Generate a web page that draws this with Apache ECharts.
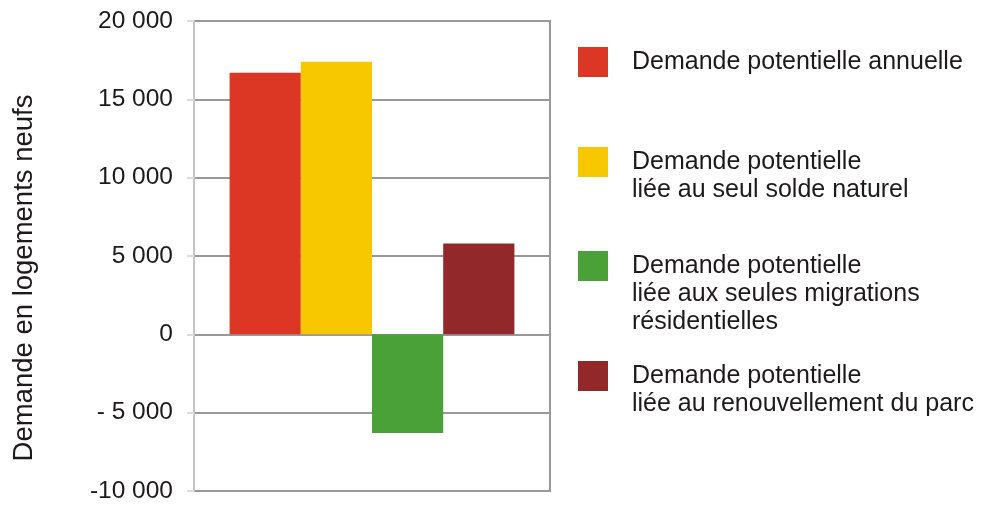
<!DOCTYPE html>
<html>
<head>
<meta charset="utf-8">
<script src="https://cdn.jsdelivr.net/npm/echarts@6/dist/echarts.min.js"></script>
<style>
html,body{margin:0;padding:0;background:#fff;}
#c{width:989px;height:505px;}
</style>
</head>
<body>
<div id="c"></div>
<script>
const categories = [''];
const seriesNames = [
  'Demande potentielle annuelle',
  'Demande potentielle\nliée au seul solde naturel',
  'Demande potentielle\nliée aux seules migrations\nrésidentielles',
  'Demande potentielle\nliée au renouvellement du parc'
];
const annuelle = [16700];
const soldeNaturel = [17400];
const migrations = [-6300];
const renouvellement = [5800];
const yTicks = [-10000, -5000, 0, 5000, 10000, 15000, 20000];
const yTickLabels = ['-10 000', '- 5 000', '0', '5 000', '10 000', '15 000', '20 000'];
const colors = ['#DC3624', '#F7C800', '#49A137', '#93282A'];
const seriesData = [annuelle, soldeNaturel, migrations, renouvellement];

const FONT = '"Liberation Sans", Arial, sans-serif';
const chart = echarts.init(document.getElementById('c'));

// legend: one component per item; leading blank lines keep the first text line level with the square
const legendTops = [47, 147, 251, 361];
const legends = seriesNames.map((name, i) => {
  const lines = name.split('\n').length;
  const boxTop = Math.min(0, 29 - lines * 28);
  return {
    data: [name],
    orient: 'vertical',
    left: 578,
    top: legendTops[i] + boxTop,
    padding: 0,
    icon: 'rect',
    itemWidth: 30,
    itemHeight: 30,
    selectedMode: false,
    formatter: n => '\n'.repeat(lines - 1) + n,
    textStyle: {
      fontFamily: FONT,
      fontSize: 25,
      lineHeight: 28,
      color: '#1E1A1B',
      padding: [0, 0, 0, 19]
    }
  };
});

chart.setOption({
  animation: false,
  backgroundColor: '#fff',
  grid: {
    left: 194, right: 439, top: 21, bottom: 14,
    show: true, borderColor: '#999', borderWidth: 2, backgroundColor: 'transparent'
  },
  legend: legends,
  graphic: [{
    type: 'text',
    x: 24, y: 278,
    rotation: Math.PI / 2,
    style: {
      text: 'Demande en logements neufs',
      font: '27.5px ' + FONT,
      fill: '#1E1A1B',
      align: 'center',
      verticalAlign: 'middle'
    }
  }],
  xAxis: {
    type: 'category',
    data: categories,
    axisLine: { show: false },
    axisTick: { show: false },
    axisLabel: { show: false }
  },
  yAxis: {
    type: 'value',
    min: -10000, max: 20000, interval: 5000,
    axisLine: { show: true, lineStyle: { color: '#c4c4c4', width: 2 } },
    axisTick: { show: true, length: 7, lineStyle: { color: '#dcdcdc', width: 2 } },
    axisLabel: {
      margin: 21,
      fontFamily: FONT,
      fontSize: 24.5,
      color: '#1E1A1B',
      formatter: v => yTickLabels[yTicks.indexOf(v)]
    },
    splitLine: { show: true, lineStyle: { color: '#999', width: 2 } }
  },
  series: seriesData.map((d, i) => ({
    name: seriesNames[i],
    type: 'bar',
    data: d,
    barGap: 0,
    barCategoryGap: '20%',
    itemStyle: { color: colors[i] }
  }))
});
</script>
</body>
</html>
